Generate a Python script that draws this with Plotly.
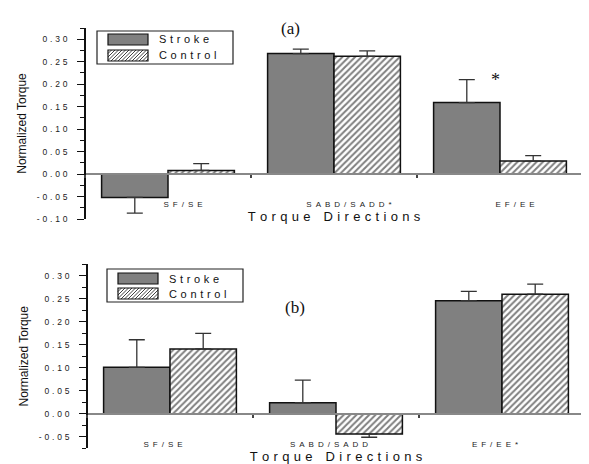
import plotly.graph_objects as go

W, H = 589, 464
OFF = 8  # the page body margin offsets the figure by 8px
FW, FH = W - OFF, H - OFF

categories = ["SF/SE", "SABD/SADD", "EF/EE"]
top_labels = ["S F / S E", "S A B D / S A D D *", "E F / E E"]
bot_labels = ["S F / S E", "S A B D / S A D D", "E F / E E *"]

# panel (a)
a_stroke = [-0.052, 0.268, 0.159]
a_stroke_err = [0.035, 0.010, 0.051]
a_control = [0.008, 0.262, 0.029]
a_control_err = [0.015, 0.012, 0.012]

# panel (b)
b_stroke = [0.101, 0.024, 0.246]
b_stroke_err = [0.060, 0.049, 0.020]
b_control = [0.141, -0.044, 0.260]
b_control_err = [0.034, 0.007, 0.022]

a_ticks = [-0.10, -0.05, 0.00, 0.05, 0.10, 0.15, 0.20, 0.25, 0.30]
b_ticks = [-0.05, 0.00, 0.05, 0.10, 0.15, 0.20, 0.25, 0.30]

FONT = "Liberation Sans, Arial, sans-serif"
SERIF = "Liberation Serif, Times New Roman, serif"

EN = "\u2002"
THREE = "\u2004"


def spread(s, gap):
    return gap.join(list(s.replace(" ", "")))


def px(x):
    return (x - OFF) / FW


def py(y):
    return 1 - (y - OFF) / FH


def err(vals, errs):
    up = [e if v >= 0 else 0 for v, e in zip(vals, errs)]
    dn = [e if v < 0 else 0 for v, e in zip(vals, errs)]
    return dict(type="data", symmetric=False, array=up, arrayminus=dn,
                color="#333333", thickness=1.3, width=8)


fig = go.Figure()

for (s, se, c, ce, xa, ya) in [
    (a_stroke, a_stroke_err, a_control, a_control_err, "x", "y"),
    (b_stroke, b_stroke_err, b_control, b_control_err, "x2", "y2"),
]:
    fig.add_trace(go.Bar(
        x=categories, y=s, name="Stroke", xaxis=xa, yaxis=ya,
        marker=dict(color="#808080", line=dict(color="#111111", width=1.5)),
        error_y=err(s, se), showlegend=False,
    ))
    fig.add_trace(go.Bar(
        x=categories, y=c, name="Control", xaxis=xa, yaxis=ya,
        marker=dict(color="white", line=dict(color="#111111", width=1.5),
                    pattern=dict(shape="/", fgcolor="#000000", bgcolor="white",
                                 size=4.5, solidity=0.45, fillmode="overlay")),
        error_y=err(c, ce), showlegend=False,
    ))

tickfont = dict(family=FONT, size=8, color="#222222")
title_font = dict(family=FONT, size=13, color="#111111")
XTITLE = (THREE * 3).join(spread(w, THREE) for w in ["Torque", "Directions"])


def xaxis(domain, pos, labels, shift):
    return dict(
        domain=domain, anchor="free", position=pos,
        type="category", range=[-0.5, 2.5],
        tickmode="array", tickvals=categories,
        ticktext=[EN.join(l.split(" ")) for l in labels],
        tickson="boundaries", ticks="outside", ticklen=3, tickcolor="#444444",
        tickwidth=1.5,
        showline=True, linecolor="#888888", linewidth=1.5,
        showgrid=False, zeroline=False,
        tickfont=tickfont, ticklabelshift=shift, ticklabelstandoff=23,
        title=dict(text=XTITLE, font=title_font, standoff=2),
        automargin=False,
    )


def yaxis(domain, pos, rng, ticks):
    return dict(
        domain=domain, anchor="free", position=pos, range=rng,
        tickmode="array", tickvals=ticks,
        ticktext=[spread(f"{t:.2f}", THREE) for t in ticks],
        ticks="outside", ticklen=7, tickwidth=1.2, tickcolor="#111111",
        minor=dict(tickmode="linear", tick0=0, dtick=0.025, ticks="outside",
                   ticklen=4, tickwidth=1.2, tickcolor="#111111", showgrid=False),
        showline=True, linecolor="#111111", linewidth=1.5,
        showgrid=False, zeroline=False,
        tickfont=dict(family=FONT, size=8.5, color="#222222"), ticklabelstandoff=8,
        title=dict(text="Normalized Torque", font=dict(family=FONT, size=12, color="#111111"),
                   standoff=7),
        automargin=False,
    )


fig.update_layout(
    width=FW, height=FH, template="none",
    paper_bgcolor="white", plot_bgcolor="rgba(0,0,0,0)",
    margin=dict(l=0, r=0, t=0, b=0),
    barmode="group", bargap=0.2, bargroupgap=0,
    showlegend=False,
    xaxis=xaxis([px(85), px(583)], py(174), top_labels, 15),
    yaxis=yaxis([py(219), py(28)], px(85), [-0.10, 0.325], a_ticks),
    xaxis2=xaxis([px(87), px(585)], py(414), bot_labels, -7),
    yaxis2=yaxis([py(448.3), py(264.3)], px(87), [-0.075, 0.325], b_ticks),
)

# legends (drawn as shapes + text)
shapes = []
annotations = []


def legend(x0, y0, x1, y1, sx0, sx1, sy_s, sy_c, tx):
    shapes.append(dict(type="rect", xref="paper", yref="paper",
                       x0=px(x0), x1=px(x1), y0=py(y1), y1=py(y0),
                       line=dict(color="#222222", width=1.2), fillcolor="white"))
    shapes.append(dict(type="rect", xref="paper", yref="paper",
                       x0=px(sx0), x1=px(sx1), y0=py(sy_s[1]), y1=py(sy_s[0]),
                       line=dict(color="#111111", width=1.2), fillcolor="#808080"))
    shapes.append(dict(type="rect", xref="paper", yref="paper",
                       x0=px(sx0), x1=px(sx1), y0=py(sy_c[1]), y1=py(sy_c[0]),
                       line=dict(color="#111111", width=1.2), fillcolor="white"))
    # hatch lines inside the control swatch
    h = sy_c[1] - sy_c[0]
    step = 3.5
    k = -h
    while k < (sx1 - sx0):
        xa0, ya0 = sx0 + k, sy_c[1]
        xa1, ya1 = sx0 + k + h, sy_c[0]
        if xa0 < sx0:
            ya0 -= (sx0 - xa0)
            xa0 = sx0
        if xa1 > sx1:
            ya1 += (xa1 - sx1)
            xa1 = sx1
        if xa1 > xa0:
            shapes.append(dict(type="line", xref="paper", yref="paper",
                               x0=px(xa0), y0=py(ya0), x1=px(xa1), y1=py(ya1),
                               line=dict(color="#111111", width=0.8)))
        k += step
    for text, sy in [("Stroke", sy_s), ("Control", sy_c)]:
        annotations.append(dict(text=spread(text, THREE), xref="paper", yref="paper",
                                x=px(tx), y=py((sy[0] + sy[1]) / 2),
                                xanchor="left", yanchor="middle", showarrow=False,
                                font=dict(family=FONT, size=11, color="#111111")))


legend(97, 31, 233, 64, 108, 148, (34, 45), (50, 61), 157)
legend(107, 269, 243, 302, 118, 158, (273, 284), (288, 299), 167)

annotations.append(dict(text="(a)", xref="paper", yref="paper", x=px(290), y=py(28),
                        xanchor="center", yanchor="middle",
                        showarrow=False, font=dict(family=SERIF, size=17, color="#111111")))
annotations.append(dict(text="(b)", xref="paper", yref="paper", x=px(295), y=py(307),
                        xanchor="center", yanchor="middle",
                        showarrow=False, font=dict(family=SERIF, size=17, color="#111111")))
annotations.append(dict(text="*", xref="x", yref="y", x="EF/EE", xshift=-5,
                        y=a_stroke[2] + a_stroke_err[2], yshift=0,
                        xanchor="center", yanchor="middle",
                        showarrow=False, font=dict(family=SERIF, size=18, color="#111111")))

fig.update_layout(shapes=shapes, annotations=annotations)

fig.write_html("out.html")
